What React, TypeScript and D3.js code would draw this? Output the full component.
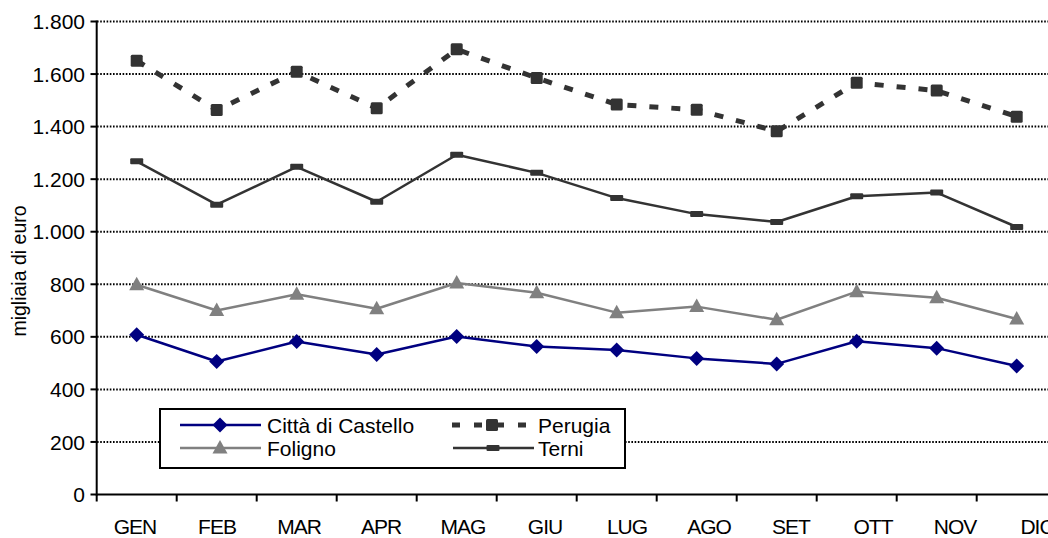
import React from "react";
import * as d3 from "d3";

const months = ["GEN", "FEB", "MAR", "APR", "MAG", "GIU", "LUG", "AGO", "SET", "OTT", "NOV", "DIC"];
const cittaDiCastello = [608, 506, 582, 533, 601, 563, 550, 518, 497, 583, 557, 489];
const perugia = [1651, 1463, 1609, 1470, 1694, 1585, 1484, 1464, 1382, 1567, 1537, 1438];
const foligno = [798, 700, 762, 707, 805, 768, 692, 715, 665, 772, 749, 668];
const terni = [1268, 1103, 1247, 1114, 1293, 1224, 1128, 1067, 1037, 1135, 1149, 1018];
const yTicks = [0, 200, 400, 600, 800, 1000, 1200, 1400, 1600, 1800];
const yTitle = "migliaia di euro";

const W = 1048;
const H = 538;
const FONT = "'Liberation Sans', Arial, sans-serif";

const fmt = (v: number) => d3.format(",")(v).replace(/,/g, ".");

export default function App() {
  const x = d3.scaleBand<string>().domain(months).range([96.7, 96.7 + 80 * 12]);
  const xc = (m: string) => (x(m) as number) + x.bandwidth() / 2;
  const xLabel = d3.scalePoint<string>().domain(months).range([135, 1037]);
  const y = d3.scaleLinear().domain([0, 1800]).range([494.5, 21.5]);

  const line = d3
    .line<number>()
    .x((_, i) => xc(months[i]))
    .y((d) => y(d));

  const diamond = (cx: number, cy: number, r = 7.5) =>
    `M${cx},${cy - r}L${cx + r},${cy}L${cx},${cy + r}L${cx - r},${cy}Z`;
  const triangle = (cx: number, cy: number) =>
    `M${cx},${cy - 8}L${cx + 7.5},${cy + 5.5}L${cx - 7.5},${cy + 5.5}Z`;

  const series = [
    { name: "Città di Castello", values: cittaDiCastello, color: "#000080", width: 2.5, dash: undefined as string | undefined, marker: "diamond" },
    { name: "Foligno", values: foligno, color: "#808080", width: 2.5, dash: undefined, marker: "triangle" },
    { name: "Perugia", values: perugia, color: "#333333", width: 5, dash: "9,13", marker: "square" },
    { name: "Terni", values: terni, color: "#333333", width: 2.5, dash: undefined, marker: "bar" },
  ];

  const drawMarker = (kind: string, cx: number, cy: number, color: string, key: string) => {
    if (kind === "diamond") return <path key={key} d={diamond(cx, cy)} fill={color} />;
    if (kind === "triangle") return <path key={key} d={triangle(cx, cy)} fill={color} />;
    if (kind === "square")
      return <rect key={key} x={cx - 6} y={cy - 6} width={12} height={12} rx={1.5} fill={color} />;
    return <rect key={key} x={cx - 6.5} y={cy - 3} width={13} height={6} rx={1} fill={color} />;
  };

  const legendRows = [
    { s: series[0], lx: 180, tx: 267, ly: 425 },
    { s: series[1], lx: 180, tx: 267, ly: 448 },
    { s: series[2], lx: 452, tx: 538, ly: 425 },
    { s: series[3], lx: 453, tx: 538, ly: 448 },
  ];

  return (
    <svg
      width={W}
      height={H}
      style={{ position: "absolute", left: 0, top: 0, background: "#fff" }}
      fontFamily={FONT}
    >
      <rect x={0} y={0} width={W} height={H} fill="#fff" />
      {/* gridlines */}
      {yTicks
        .filter((t) => t > 0)
        .map((t) => (
          <line
            key={"g" + t}
            x1={97}
            x2={W}
            y1={y(t)}
            y2={y(t)}
            stroke="#000"
            strokeWidth={2}
            strokeDasharray="1.6,1.6"
          />
        ))}
      {/* y axis */}
      <line x1={96.7} x2={96.7} y1={y(1800) - 1} y2={y(0) + 1} stroke="#000" strokeWidth={2} />
      {yTicks.map((t) => (
        <g key={"yt" + t}>
          <line x1={90.5} x2={96.7} y1={y(t)} y2={y(t)} stroke="#000" strokeWidth={2} />
          <text x={85} y={y(t)} dy="0.36em" textAnchor="end" fontSize={21} fill="#000">
            {fmt(t)}
          </text>
        </g>
      ))}
      {/* x axis */}
      <line x1={96} x2={W} y1={y(0)} y2={y(0)} stroke="#000" strokeWidth={2} />
      {months.map((m) => (
        <line
          key={"xt" + m}
          x1={x(m) as number}
          x2={x(m) as number}
          y1={y(0)}
          y2={y(0) + 7}
          stroke="#000"
          strokeWidth={2}
        />
      ))}
      {months.map((m) => (
        <text
          key={"xl" + m}
          x={xLabel(m) as number}
          y={534}
          textAnchor="middle"
          fontSize={21}
          fill="#000"
          letterSpacing={-1}
        >
          {m}
        </text>
      ))}
      {/* y title */}
      <text
        transform={`translate(26,271) rotate(-90)`}
        textAnchor="middle"
        fontSize={19.5}
        fill="#000"
      >
        {yTitle}
      </text>
      {/* series */}
      {series.map((s) => (
        <g key={s.name}>
          <path
            d={line(s.values) as string}
            fill="none"
            stroke={s.color}
            strokeWidth={s.width}
            strokeDasharray={s.dash}
            strokeLinejoin="round"
          />
          {s.values.map((v, i) => drawMarker(s.marker, xc(months[i]), y(v), s.color, s.name + i))}
        </g>
      ))}
      {/* legend */}
      <rect x={160} y={409} width={465} height={59} fill="#fff" stroke="#000" strokeWidth={2} />
      {legendRows.map(({ s, lx, tx, ly }) => (
        <g key={"lg" + s.name}>
          <line
            x1={lx}
            x2={lx + 81}
            y1={ly}
            y2={ly}
            stroke={s.color}
            strokeWidth={s.width}
            strokeDasharray={s.dash ? "8,14" : undefined}
          />
          {drawMarker(s.marker, lx + 40, ly, s.color, "lm" + s.name)}
          <text x={tx} y={ly} dy="0.36em" fontSize={21} fill="#000">
            {s.name}
          </text>
        </g>
      ))}
    </svg>
  );
}
